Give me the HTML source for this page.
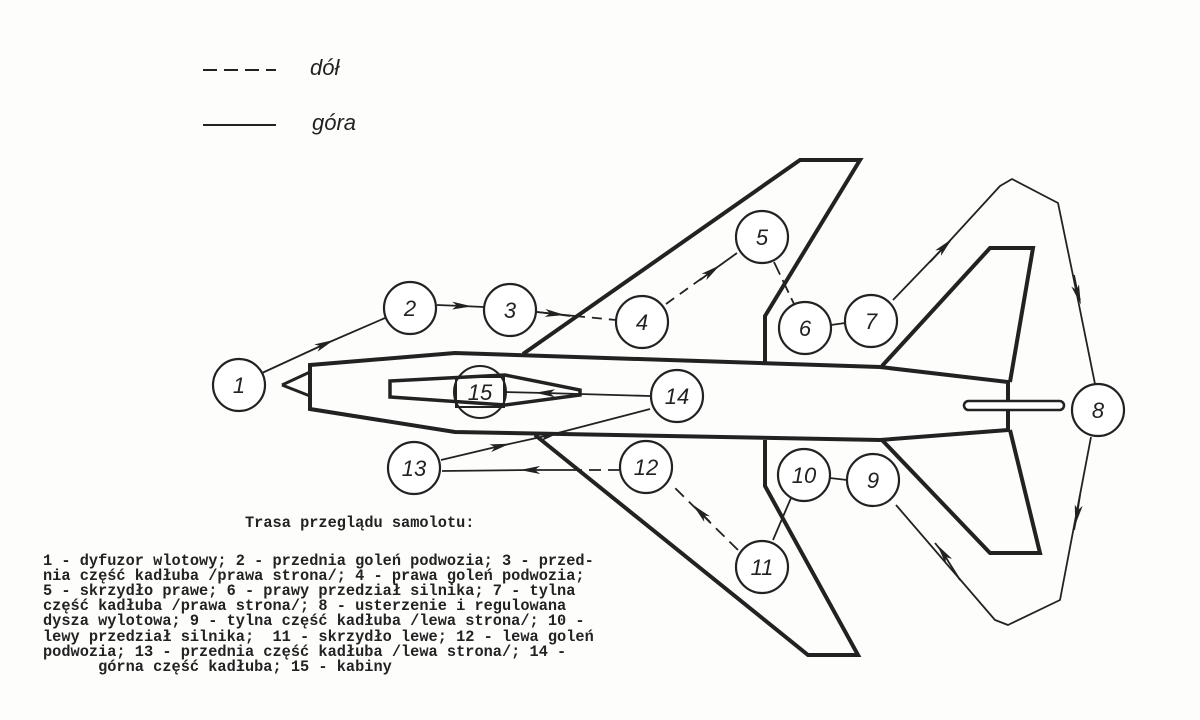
<!DOCTYPE html>
<html><head><meta charset="utf-8"><style>
body{margin:0;background:#fff;}
.t{position:absolute;font-family:"Liberation Mono",monospace;font-size:15.3px;color:#222;white-space:pre;line-height:1;font-weight:bold;letter-spacing:0}
</style></head><body>
<div style="position:relative;width:1200px;height:720px;overflow:hidden;background:#fdfdfc">
<svg width="1200" height="720" style="position:absolute;left:0;top:0" font-family="Liberation Sans, sans-serif">
<defs>
<marker id="a" viewBox="0 0 20 8" refX="10" refY="4" markerWidth="20" markerHeight="8" markerUnits="userSpaceOnUse" orient="auto"><path d="M0,0 L20,4 L0,8 L5,4 z" fill="#222"/></marker>
</defs>
<g stroke="#222" fill="none">
<!-- legend -->
<line x1="203" y1="70" x2="276" y2="70" stroke-width="2" stroke-dasharray="14,7"/>
<line x1="203" y1="125" x2="276" y2="125" stroke-width="2"/>
<!-- fuselage -->
<path d="M310,365 L455,353 L880,367 L1008,382 L1008,430 L880,440 L455,432 L310,409 Z" stroke-width="4"/>
<path d="M282,385 L310,372 M282,385 L310,396" stroke-width="3"/>
<!-- canopy -->
<path d="M390,381 L505,375 L580,390 L580,395 L505,405 L390,397 Z" stroke-width="3.5"/>
<rect x="456" y="377" width="48" height="30" stroke-width="2"/>
<!-- wings -->
<path d="M523,354 L800,160 L860,160 L765,316 L765,362" stroke-width="4"/>
<path d="M535,435 L808,655 L858,655 L765,486 L765,440" stroke-width="4"/>
<!-- tail -->
<path d="M882,366 L990,248 L1033,248 L1010,382" stroke-width="4"/>
<path d="M882,440 L990,553 L1040,553 L1010,430" stroke-width="4"/>
<rect x="964" y="401" width="100" height="9" rx="4.5" stroke-width="2.5" fill="#fff"/>
<!-- connectors -->
<g stroke-width="1.8">
<polyline points="262,373 325,344 385,318" marker-mid="url(#a)"/>
<polyline points="437,305 462,306 484,307" marker-mid="url(#a)"/>
<polyline points="537,312 555,314 570,316"/>
<polyline points="537,312 555,314 575,316" marker-mid="url(#a)"/>
<line x1="575" y1="316" x2="616" y2="320" stroke-dasharray="10,7"/>
<line x1="666" y1="304" x2="705" y2="276" stroke-dasharray="10,7"/>
<polyline points="700,280 712,271 737,253" marker-mid="url(#a)"/>
<line x1="774" y1="262" x2="794" y2="304" stroke-dasharray="14,6"/>
<line x1="831" y1="325" x2="845" y2="323"/>
<polyline points="893,300 945,246 1000,186 1012,179 1058,203 1076,290 1095,384" stroke-linejoin="round"/>
<polyline points="930,262 945,246 950,241" marker-mid="url(#a)"/>
<polyline points="1074,275 1078,295 1080,300" marker-mid="url(#a)"/>
<polyline points="1091,437 1060,600 1008,625 995,620 896,505" stroke-linejoin="round"/>
<polyline points="1080,495 1077,515 1074,530" marker-mid="url(#a)"/>
<polyline points="960,580 943,553 935,543" marker-mid="url(#a)"/>
<line x1="830" y1="478" x2="847" y2="480"/>
<line x1="791" y1="498" x2="773" y2="540"/>
<line x1="738" y1="550" x2="672" y2="485" stroke-dasharray="12,7"/>
<polyline points="710,522 700,512 695,507" marker-mid="url(#a)"/>
<line x1="620" y1="470" x2="570" y2="470" stroke-dasharray="12,7"/>
<polyline points="570,470 530,470 442,471" marker-mid="url(#a)"/>
<polyline points="441,460 500,446 550,435 650,409" marker-mid="url(#a)"/>
<polyline points="650,396 545,393 504,392" marker-mid="url(#a)"/>
</g>
<!-- circles -->
<g stroke-width="2.2" fill="#fff">
<circle cx="239" cy="385" r="26"/>
<circle cx="410" cy="308" r="26"/>
<circle cx="510" cy="310" r="26"/>
<circle cx="642" cy="322" r="26"/>
<circle cx="762" cy="237" r="26"/>
<circle cx="805" cy="328" r="26"/>
<circle cx="871" cy="321" r="26"/>
<circle cx="1098" cy="410" r="26"/>
<circle cx="873" cy="480" r="26"/>
<circle cx="804" cy="475" r="26"/>
<circle cx="762" cy="567" r="26"/>
<circle cx="646" cy="467" r="26"/>
<circle cx="414" cy="468" r="26"/>
<circle cx="677" cy="396" r="26"/>
</g>
<circle cx="480" cy="392" r="26" stroke-width="2"/>
</g>
<g font-size="22" font-style="italic" fill="#222" text-anchor="middle">
<text x="239" y="393">1</text><text x="410" y="316">2</text><text x="510" y="318">3</text>
<text x="642" y="330">4</text><text x="762" y="245">5</text><text x="805" y="336">6</text>
<text x="871" y="329">7</text><text x="1098" y="418">8</text><text x="873" y="488">9</text>
<text x="804" y="483">10</text><text x="762" y="575">11</text><text x="646" y="475">12</text>
<text x="414" y="476">13</text><text x="677" y="404">14</text><text x="480" y="400">15</text>
<text x="310" y="75" text-anchor="start">dół</text>
<text x="312" y="130" text-anchor="start">góra</text>
</g>
</svg>
<div class="t" style="left:245px;top:516px">Trasa przeglądu samolotu:</div>
<div class="t" style="left:43px;top:554px">1 - dyfuzor wlotowy; 2 - przednia goleń podwozia; 3 - przed-</div>
<div class="t" style="left:43px;top:569px">nia część kadłuba /prawa strona/; 4 - prawa goleń podwozia;</div>
<div class="t" style="left:43px;top:584px">5 - skrzydło prawe; 6 - prawy przedział silnika; 7 - tylna</div>
<div class="t" style="left:43px;top:599px">część kadłuba /prawa strona/; 8 - usterzenie i regulowana</div>
<div class="t" style="left:43px;top:614px">dysza wylotowa; 9 - tylna część kadłuba /lewa strona/; 10 -</div>
<div class="t" style="left:43px;top:630px">lewy przedział silnika;  11 - skrzydło lewe; 12 - lewa goleń</div>
<div class="t" style="left:43px;top:645px">podwozia; 13 - przednia część kadłuba /lewa strona/; 14 -</div>
<div class="t" style="left:43px;top:660px">      górna część kadłuba; 15 - kabiny</div>
</div>
</body></html>
